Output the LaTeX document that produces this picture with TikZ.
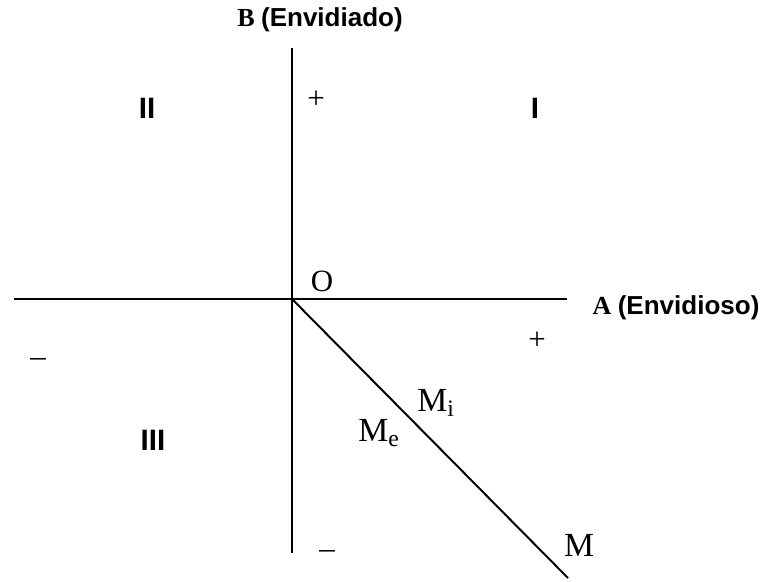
\documentclass[tikz,border=0pt]{standalone}
\usepackage{fontspec}
\setmainfont{Liberation Serif}
\setsansfont{Liberation Sans}
\usepackage{tikz}
\usetikzlibrary{positioning}

\begin{document}
\begin{tikzpicture}[
    x=0.025cm, y=-0.025cm,
    axis/.style={line width=1.4pt},
    quadrant/.style={font=\sffamily\bfseries\fontsize{21}{24}\selectfont},
    sign/.style={font=\fontsize{22}{25}\selectfont},
    point/.style={font=\fontsize{24}{27}\selectfont},
    axislabel/.style={font=\fontsize{18.5}{21}\selectfont}
]
\useasboundingbox (0,0) rectangle (763,581);

% Axes
\coordinate (o) at (292,299);
\coordinate (ytop) at (292,48);
\coordinate (ybot) at (292,553);
\coordinate (xleft) at (14,299);
\coordinate (xright) at (567,299);
\coordinate (mend) at (568,578);

\draw[axis] (ytop) -- (ybot);
\draw[axis] (xleft) -- (xright);
\draw[axis] (o) -- (mend);

% Axis labels
\node[axislabel] (blabel) at (320,20) {\textbf{B} {\sffamily\bfseries (Envidiado)}};
\node[axislabel] (alabel) at (676,308) {\textbf{A} {\sffamily\bfseries (Envidioso)}};
\node[sign] (origin) at (322,281) {O};

% Quadrants
\node[quadrant] (q2) at (147,108) {II};
\node[quadrant] (q1) at (535,108) {I};
\node[quadrant] (q3) at (153,440) {III};

% Signs
\node[sign] (bplus) at (316,100) {+};
\node[sign] (aplus) at (537,341) {+};
\node[sign] (aminus) at (38,363) {--};
\node[sign] (bminus) at (327,554) {--};

% Points on the line
\node[point] (mi) at (436,403) {M\textsubscript{i}};
\node[point] (me) at (379,433) {M\textsubscript{e}};
\node[point] (m) at (579,545) {M};

\end{tikzpicture}
\end{document}
